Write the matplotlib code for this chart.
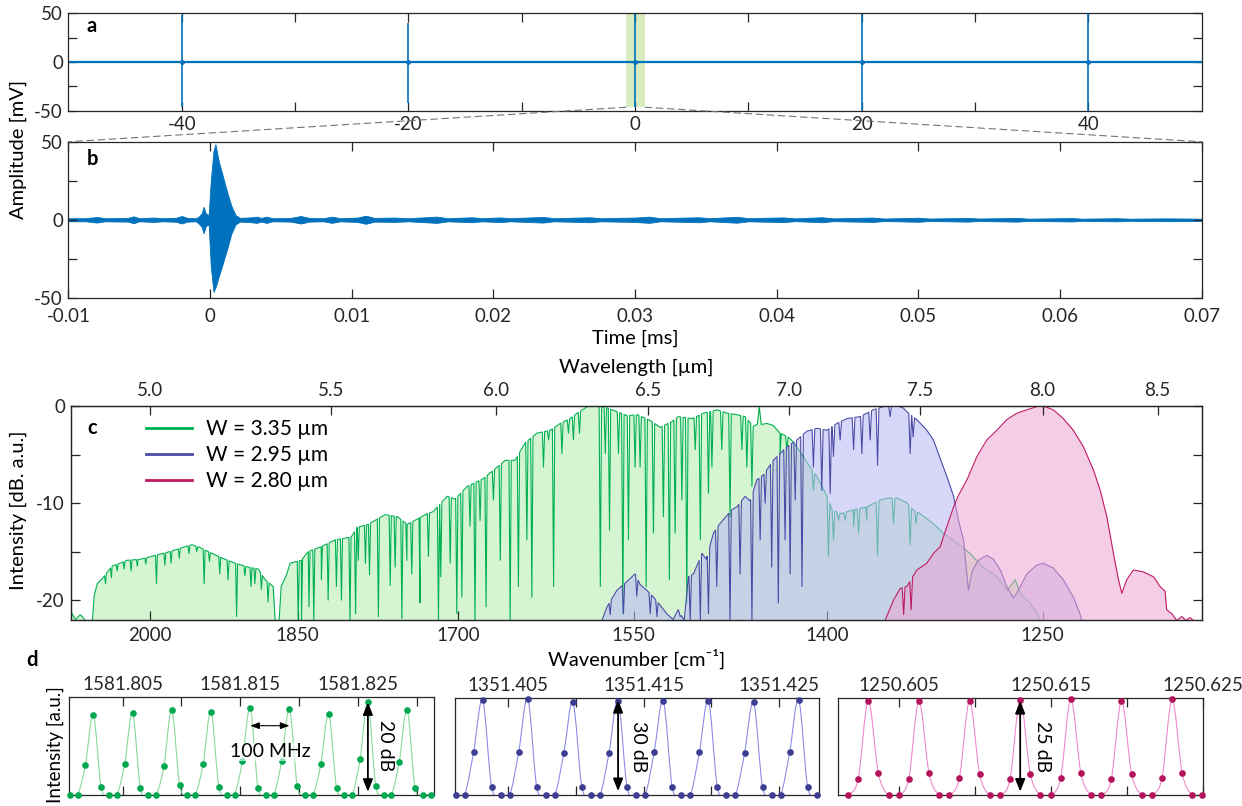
import numpy as np
import matplotlib
matplotlib.use("Agg")
import matplotlib.pyplot as plt
from matplotlib.ticker import FixedLocator, NullLocator
from matplotlib.patches import ConnectionPatch, PathPatch
from matplotlib.path import Path

plt.rcParams['font.family'] = ['Lato', 'DejaVu Sans']
plt.rcParams['font.size'] = 13.5
plt.rcParams['axes.labelsize'] = 14.5
plt.rcParams['axes.edgecolor'] = '#262626'
plt.rcParams['axes.linewidth'] = 0.9
plt.rcParams['xtick.color'] = '#262626'
plt.rcParams['ytick.color'] = '#262626'

# ---------------- data ----------------
# panel a: interferogram bursts (time axis, amplitude mV)
a_burst_t = [-40, -20, 0, 20, 40]
a_burst_max = [48, 40, 50, 50, 50]
a_burst_min = [-46, -42, -46, -50, -50]
a_zoom_span = [-0.8, 0.9]
a_xticks = [-40, -20, 0, 20, 40]
a_xlabels = ['-40', '-20', '0', '20', '40']

# panel b: envelope of the zoomed interferogram (ms, mV)
b_t = [-0.0100, -0.0088, -0.0080, -0.0074, -0.0058, -0.0054, -0.0050, -0.0040, -0.0033, -0.0024,
       -0.0020, -0.0016, -0.0010, -0.0008, -0.0006, -0.00045, -0.0003, -0.0001, 0.00005, 0.00024,
       0.00038, 0.0006, 0.0009, 0.0012, 0.0015, 0.0018, 0.0021, 0.0028, 0.0033, 0.0036,
       0.0040, 0.0044, 0.0057, 0.0064, 0.0070, 0.0080, 0.0086, 0.0092, 0.0104, 0.0110,
       0.0116, 0.0130, 0.0140, 0.0160, 0.0168, 0.0185, 0.0192, 0.0205, 0.0212, 0.0235,
       0.0243, 0.0268, 0.0276, 0.0300, 0.0310, 0.0318, 0.0345, 0.0353, 0.0372, 0.0380,
       0.0405, 0.0413, 0.0432, 0.0440, 0.0468, 0.0476, 0.0500, 0.0508, 0.0535, 0.0543,
       0.0570, 0.0578, 0.0608, 0.0616, 0.0640, 0.0650, 0.0675, 0.0700]
b_upper = [1.0, 1.0, 1.8, 1.0, 1.2, 2.2, 1.0, 1.4, 1.0, 1.3,
           2.4, 1.2, 1.0, 2.0, 4.0, 8.3, 4.0, 3.0, 25.0, 44.0,
           48.5, 38.0, 28.0, 18.0, 9.0, 3.0, 1.2, 1.5, 2.0, 1.2,
           2.0, 1.0, 1.2, 2.4, 1.2, 1.0, 2.0, 1.0, 1.4, 2.6,
           1.2, 1.4, 1.0, 2.0, 1.0, 1.6, 1.0, 1.5, 1.0, 1.8,
           1.0, 1.6, 1.0, 1.4, 2.0, 1.0, 1.6, 1.0, 1.9, 1.0,
           1.5, 0.9, 1.6, 0.9, 1.4, 0.8, 1.3, 0.8, 1.2, 0.8,
           1.2, 0.7, 1.1, 0.7, 1.0, 0.7, 0.9, 0.7]
b_lower = [-1.0, -1.0, -1.8, -1.0, -1.2, -2.2, -1.0, -1.4, -1.0, -1.3,
           -2.4, -1.2, -1.0, -2.5, -4.5, -8.7, -4.0, -3.0, -30.0, -46.2,
           -43.5, -37.0, -28.0, -19.0, -9.0, -3.0, -1.2, -1.5, -2.0, -1.2,
           -2.0, -1.0, -1.2, -2.4, -1.2, -1.0, -2.0, -1.0, -1.4, -2.6,
           -1.2, -1.4, -1.0, -2.0, -1.0, -1.6, -1.0, -1.5, -1.0, -1.8,
           -1.0, -1.6, -1.0, -1.4, -2.0, -1.0, -1.6, -1.0, -1.9, -1.0,
           -1.5, -0.9, -1.6, -0.9, -1.4, -0.8, -1.3, -0.8, -1.2, -0.8,
           -1.2, -0.7, -1.1, -0.7, -1.0, -0.7, -0.9, -0.7]
b_xticks = [-0.01, 0.0, 0.01, 0.02, 0.03, 0.04, 0.05, 0.06, 0.07]
b_xlabels = ['-0.01', '0', '0.01', '0.02', '0.03', '0.04', '0.05', '0.06', '0.07']

# panel c: spectra (wavenumber cm-1, dB) -- envelope knots and absorption dips
green_env_nu = [2084.5, 2079.6, 2074.2, 2068.8, 2061.2, 2059.1, 2055.8, 2050.5, 2044.1, 2039.8,
                2031.3, 2023.8, 2009.9, 1994.1, 1978.5, 1962.9, 1955.7, 1947.4, 1935.3, 1922.1,
                1912.0, 1898.8, 1888.9, 1882.0, 1874.1, 1872.1, 1868.2, 1866.2, 1861.3, 1857.4,
                1846.5, 1839.8, 1827.3, 1813.9, 1798.6, 1792.9, 1782.7, 1778.0, 1766.8, 1755.6,
                1746.4, 1734.6, 1728.2, 1722.8, 1710.0, 1702.9, 1692.2, 1678.0, 1665.6, 1658.6,
                1650.0, 1641.3, 1631.0, 1619.7, 1611.3, 1602.9, 1597.0, 1588.5, 1579.3, 1571.9,
                1563.7, 1555.5, 1547.3, 1536.7, 1528.7, 1519.1, 1514.3, 1503.1, 1494.4, 1483.5,
                1475.7, 1467.9, 1461.8, 1455.6, 1452.5, 1451.0, 1449.5, 1445.0, 1440.4, 1435.2,
                1429.1, 1425.3, 1417.8, 1412.7, 1407.5, 1403.8, 1400.1, 1396.4, 1390.5, 1380.9,
                1371.0, 1361.6, 1356.6, 1349.4, 1342.3, 1338.1, 1333.2, 1324.1, 1317.1, 1310.2,
                1304.1, 1298.6, 1289.8, 1280.1, 1273.4, 1268.1, 1264.8, 1258.2, 1253.5, 1251.5]
green_env_db = [-21.2, -22.0, -21.5, -22.1, -22.1, -19.5, -18.3, -17.8, -17.0, -16.5,
                -16.2, -15.9, -15.8, -15.4, -15.0, -14.5, -14.3, -14.6, -15.2, -15.8,
                -16.2, -16.6, -16.8, -17.9, -18.6, -22.1, -22.1, -18.6, -17.5, -16.2,
                -15.9, -15.0, -14.5, -13.8, -13.5, -12.5, -12.2, -11.9, -11.2, -11.4,
                -12.2, -11.5, -11.1, -10.9, -9.3, -9.6, -8.3, -7.5, -6.3, -5.6,
                -5.6, -3.8, -2.8, -2.5, -1.8, -1.3, -0.75, -0.07, 0.0, -0.2,
                -0.6, -1.0, -0.9, -1.5, -2.2, -1.6, -1.1, -1.3, -0.75, -0.4,
                -0.75, -0.9, -1.1, -2.1, -1.9, -0.07, -1.9, -1.8, -2.0, -2.8,
                -3.2, -3.7, -5.2, -6.3, -7.3, -8.3, -9.3, -10.7, -11.1, -10.7,
                -10.4, -9.7, -9.5, -9.5, -10.0, -10.7, -11.1, -12.1, -13.1, -13.8,
                -14.5, -15.2, -16.6, -17.6, -19.0, -17.9, -19.3, -20.3, -21.4, -22.1]
green_dip_nu = [2047.0, 2040.6, 2034.5, 2027.0, 2019.6, 2013.0, 2004.0, 1992.8, 1984.0, 1977.5,
                1969.0, 1959.0, 1951.0, 1943.4, 1938.0, 1927.5, 1919.1, 1910.5, 1902.2, 1896.1,
                1892.2, 1885.7, 1879.1,
                1849.5, 1846.3, 1839.1, 1834.4, 1827.1,
                1820.6, 1812.7, 1807.9, 1799.8, 1794.5, 1792.0, 1785.2, 1781.4, 1773.1, 1762.1,
                1757.5, 1751.3, 1746.7, 1742.2, 1734.6, 1727.0, 1717.9, 1715.8, 1707.3, 1701.4,
                1696.9, 1689.6, 1685.2, 1680.7, 1675.4, 1668.9, 1662.9, 1654.3, 1647.1, 1639.8,
                1635.5, 1625.5, 1621.2, 1616.9, 1609.8, 1604.3, 1600.1, 1595.0, 1577.6, 1573.5,
                1570.0, 1562.6, 1559.0, 1554.4, 1549.0, 1544.9, 1540.0, 1534.1, 1526.1, 1521.3,
                1516.7, 1511.3, 1507.4, 1500.7, 1496.7, 1490.3, 1487.6, 1479.9, 1473.5, 1464.3,
                1460.5, 1456.6, 1435.2, 1430.1, 1410.2, 1399.1, 1395.4, 1391.7, 1386.8, 1380.7,
                1377.1, 1371.0, 1363.4, 1352.0, 1340.2, 1336.0]
green_dip_db = [-18.3, -17.7, -17.0, -16.8, -17.0, -16.5, -16.3, -18.3, -16.4, -16.2,
                -15.7, -15.2, -15.0, -18.3, -16.0, -17.3, -17.9, -21.7, -17.5, -18.6,
                -18.3, -18.9, -20.2,
                -22.1, -22.1, -20.7, -22.1, -17.9,
                -20.0, -18.6, -20.0, -22.1, -21.4, -15.9, -16.2, -17.4, -21.7, -18.5,
                -16.6, -21.9, -15.9, -17.3, -20.3, -15.5, -22.1, -17.6, -16.2, -21.4,
                -19.7, -12.4, -22.1, -11.8, -20.7, -9.7, -15.9, -22.1, -18.6, -13.8,
                -19.7, -6.3, -3.5, -18.6, -4.9, -2.8, -3.5, -2.8, -18.6, -4.9,
                -12.8, -4.9, -21.4, -13.8, -6.3, -6.3, -18.6, -13.1, -11.4, -17.9,
                -13.1, -9.7, -20.3, -4.5, -13.8, -9.0, -6.3, -4.5, -11.4, -4.5,
                -6.3, -8.3, -4.9, -4.5, -8.7, -15.5, -13.8, -11.8, -11.8, -12.4,
                -13.1, -11.8, -15.4, -12.1, -14.3, -12.1]

blue_env_nu = [1576.2, 1572.1, 1563.9, 1555.7, 1549.0, 1544.9, 1539.4, 1534.1, 1530.1, 1523.4,
               1518.3, 1514.3, 1509.5, 1506.1, 1502.1, 1495.4, 1492.0, 1486.4, 1481.2, 1472.1,
               1468.2, 1461.8, 1457.9, 1452.8, 1447.8, 1440.3, 1435.2, 1430.1, 1422.5, 1415.1,
               1407.7, 1400.3, 1392.9, 1385.5, 1376.0, 1366.5, 1359.3, 1349.6, 1345.1, 1342.5,
               1335.5, 1328.5, 1323.9, 1319.2, 1314.5, 1309.9, 1306.5, 1303.1, 1299.7, 1297.2,
               1292.9, 1287.2, 1282.7, 1278.1, 1273.7, 1269.3, 1266.0, 1260.4, 1253.8, 1249.4,
               1242.9, 1236.4, 1229.9, 1225.6, 1224.5]
blue_env_db = [-22.1, -20.7, -19.0, -18.1, -17.3, -18.4, -19.0, -19.7, -20.3, -21.4,
               -22.0, -21.0, -22.1, -17.6, -17.3, -15.2, -15.8, -13.1, -12.1, -10.7,
               -10.4, -9.3, -9.8, -7.6, -7.1, -5.6, -4.9, -4.2, -3.5, -2.6,
               -2.3, -2.5, -1.8, -1.3, -1.1, -0.4, -0.07, 0.0, -0.2, -0.6,
               -1.4, -2.5, -3.5, -5.4, -7.3, -9.3, -11.8, -13.8, -19.0, -17.0,
               -15.9, -15.4, -15.8, -16.9, -18.6, -19.8, -19.0, -17.3, -16.4, -16.2,
               -16.7, -17.9, -19.7, -21.4, -22.1]
blue_dip_nu = [1569.4, 1558.5, 1547.6, 1536.7, 1531.3, 1512.7, 1504.7, 1496.7, 1490.3, 1483.8,
               1473.5, 1465.7, 1456.6, 1450.3, 1446.5, 1441.5, 1436.5, 1431.4, 1427.6, 1423.8,
               1418.7, 1410.2, 1404.0, 1397.8, 1395.4, 1390.5, 1380.7, 1374.7, 1368.7, 1363.4,
               1354.4, 1340.2, 1338.1]
blue_dip_db = [-21.5, -21.4, -19.6, -21.4, -21.7, -21.7, -22.1, -22.1, -21.4, -18.6,
               -22.1, -17.3, -22.1, -13.8, -10.0, -16.6, -20.3, -13.8, -17.3, -9.7,
               -18.6, -6.3, -8.7, -9.0, -5.2, -3.5, -4.5, -4.9, -3.5, -6.1,
               -1.1, -4.9, -3.2]

magenta_env_nu = [1358.0, 1352.0, 1347.2, 1342.5, 1335.5, 1328.5, 1323.9, 1319.2, 1314.5, 1309.9,
                  1306.5, 1300.7, 1293.9, 1287.2, 1280.4, 1273.7, 1267.1, 1260.4, 1253.8, 1249.4,
                  1242.9, 1236.4, 1229.9, 1223.4, 1216.9, 1212.6, 1208.4, 1204.2, 1201.0, 1198.9,
                  1195.8, 1191.6, 1185.3, 1179.1, 1175.0, 1171.9, 1170.9, 1167.8, 1164.7, 1161.7,
                  1159.0, 1156.6, 1154.6]
magenta_env_db = [-22.1, -20.0, -18.8, -18.6, -16.9, -16.2, -15.2, -14.5, -12.4, -10.4,
                  -9.2, -7.6, -5.2, -3.5, -2.5, -1.4, -0.75, -0.4, -0.07, 0.0,
                  -0.4, -1.3, -2.5, -4.2, -6.6, -8.7, -11.4, -15.2, -17.9, -19.3,
                  -17.9, -16.9, -17.1, -17.6, -18.6, -19.1, -21.0, -21.4, -22.1, -21.7,
                  -22.1, -21.8, -22.1]
magenta_dip_nu = [1344.8, 1339.5]
magenta_dip_db = [-21.5, -21.0]

c_wn_ticks = [2000, 1850, 1700, 1550, 1400, 1250]
c_wl_ticks = [5.0, 5.5, 6.0, 6.5, 7.0, 7.5, 8.0, 8.5]
c_labels = ['W = 3.35 µm', 'W = 2.95 µm', 'W = 2.80 µm']

# panel d: resolved comb lines (wavenumber, linear intensity), sampled every 20 MHz
d_step = 0.00066713          # 20 MHz in cm-1
d_green_x0 = 1581.8005
d_green_y = [0, 0, 0.31, 0.82, 0.075, 0, 0, 0.315, 0.84, 0.065, 0, 0, 0.29, 0.873, 0.099,
             0, 0, 0.318, 0.853, 0.082, 0, 0, 0.346, 0.894, 0.068, 0, 0, 0.342, 0.877, 0.086,
             0, 0, 0.312, 0.832, 0.072, 0, 0, 0.363, 0.949, 0.092, 0, 0, 0.339, 0.873, 0.072,
             0, 0]
d_blue_x0 = 1351.4011
d_blue_y = [0, 0, 0.438, 0.976, 0.079, 0, 0, 0.445, 0.99, 0.079, 0, 0, 0.435, 0.955, 0.079,
            0, 0, 0.435, 0.969, 0.079, 0, 0, 0.445, 0.969, 0.079, 0, 0, 0.438, 0.966, 0.079,
            0, 0, 0.428, 0.952, 0.079, 0, 0, 0.438, 0.976, 0.079, 0]
d_mag_x0 = 1250.60164
d_mag_y = [0, 0.161, 0.966, 0.223, 0, 0, 0.168, 0.966, 0.223, 0, 0, 0.178, 0.966, 0.212, 0,
           0, 0.164, 0.976, 0.216, 0, 0, 0.178, 0.983, 0.223, 0, 0, 0.164, 0.966, 0.219, 0,
           0, 0.175, 0.983, 0.223, 0, 0]
d_green_xlim = [1581.80046, 1581.8315]
d_blue_xlim = [1351.40104, 1351.42793]
d_mag_xlim = [1250.60098, 1250.6250]
d_green_ticks = [1581.805, 1581.810, 1581.815, 1581.820, 1581.825, 1581.830]
d_green_tl = ['1581.805', '', '1581.815', '', '1581.825', '']
d_blue_ticks = [1351.405, 1351.410, 1351.415, 1351.420, 1351.425]
d_blue_tl = ['1351.405', '', '1351.415', '', '1351.425']
d_mag_ticks = [1250.605, 1250.610, 1250.615, 1250.620, 1250.625]
d_mag_tl = ['1250.605', '', '1250.615', '', '1250.625']
d_green_arrow = [38, 0.949, 0.03, '20 dB']
d_blue_arrow = [18, 0.976, 0.04, '30 dB']
d_mag_arrow = [17, 0.966, 0.035, '25 dB']
d_fsr_peaks = [23, 28]
d_fsr_text = '100 MHz'

# ---------------- styles ----------------
BLUE_SIG = '#0072BD'
G_LINE, G_FILL = '#00b050', '#d5f5d2'
B_LINE, B_FILL = '#4b4ba8', (185/255, 185/255, 246/255, 0.57)
M_LINE, M_FILL = '#c01a63', (237/255, 164/255, 210/255, 0.55)
TL = 6.5


def ticks_in(ax, **kw):
    ax.tick_params(which='both', direction='in', length=TL, width=0.9, **kw)


fig = plt.figure(figsize=(12.42, 8.06), dpi=100)

# ---------------- panel a ----------------
ax_a = fig.add_axes([0.0551, 0.8627, 0.9123, 0.1208])
ax_a.axvspan(a_zoom_span[0], a_zoom_span[1], ymin=0.035, ymax=1.0,
             color='#d9ecbf', lw=0, zorder=0)
ax_a.axhline(0, color=BLUE_SIG, lw=1.6, zorder=2)
ax_a.vlines(a_burst_t, a_burst_min, a_burst_max, color=BLUE_SIG, lw=1.2, zorder=2)
ax_a.plot(a_burst_t, np.zeros(len(a_burst_t)), 'o', color=BLUE_SIG, ms=2.5, zorder=3)
ax_a.set_xlim(-50, 50)
ax_a.set_ylim(-50, 50)
ax_a.set_xticks(a_xticks)
ax_a.set_xticklabels(a_xlabels)
ax_a.xaxis.set_minor_locator(FixedLocator([-30, -10, 10, 30]))
ax_a.set_yticks([-50, 0, 50])
ax_a.set_yticklabels(['-50', '0', '50'])
ax_a.yaxis.set_minor_locator(FixedLocator([-25, 25]))
ticks_in(ax_a, top=True, right=True)
ax_a.tick_params(axis='x', pad=4)
ax_a.tick_params(axis='y', pad=4)
ax_a.text(0.0208, 0.87, 'a', transform=ax_a.transAxes, fontweight='bold',
          ha='center', va='center', fontsize=14.5)

# ---------------- panel b ----------------
ax_b = fig.add_axes([0.0551, 0.6306, 0.9123, 0.1935])
ax_b.fill_between(b_t, b_lower, b_upper, color=BLUE_SIG, lw=0.6, edgecolor=BLUE_SIG)
ax_b.set_xlim(-0.01, 0.07)
ax_b.set_ylim(-50, 50)
ax_b.set_xticks(b_xticks)
ax_b.set_xticklabels(b_xlabels)
ax_b.set_yticks([-50, 0, 50])
ax_b.set_yticklabels(['-50', '0', '50'])
ax_b.yaxis.set_minor_locator(FixedLocator([-25, 25]))
ticks_in(ax_b, top=True, right=True)
ax_b.tick_params(axis='x', pad=7.5)
ax_b.tick_params(axis='y', pad=4)
ax_b.set_xlabel('Time [ms]')
ax_b.xaxis.set_label_coords(0.5, -0.258)
ax_b.xaxis.label.set_va('center')
ax_b.text(0.0213, 0.892, 'b', transform=ax_b.transAxes, fontweight='bold',
          ha='center', va='center', fontsize=14.5)

fig.text(0.0147, 0.814, 'Amplitude [mV]', rotation=90, ha='center', va='center', fontsize=14.5)

for xa, xb in ((a_zoom_span[0], 0.0), (a_zoom_span[1], 1.0)):
    con = ConnectionPatch(xyA=(xa, 0.035), coordsA=ax_a.get_xaxis_transform(),
                          xyB=(xb, 1.0), coordsB=ax_b.transAxes,
                          color='0.45', lw=0.8, ls=(0, (6, 4)))
    fig.add_artist(con)


# ---------------- panel c ----------------
def spectrum(env_nu, env_db, dip_nu, dip_db, hw=1.0):
    order = np.argsort(env_nu)
    en = np.asarray(env_nu, float)[order]
    ed = np.asarray(env_db, float)[order]
    xs, ys = list(en), list(ed)
    for n, d in zip(dip_nu, dip_db):
        for off in (-hw, hw):
            xs.append(n + off)
            ys.append(np.interp(n + off, en, ed))
        xs.append(n)
        ys.append(min(d, np.interp(n, en, ed)))
    o = np.argsort(xs)
    return np.asarray(xs)[o], np.asarray(ys)[o]


ax_c = fig.add_axes([0.0568, 0.2308, 0.9108, 0.2655])
ax_c.set_xscale('log')
series = [
    (green_env_nu, green_env_db, green_dip_nu, green_dip_db, G_LINE, G_FILL, c_labels[0]),
    (blue_env_nu, blue_env_db, blue_dip_nu, blue_dip_db, B_LINE, B_FILL, c_labels[1]),
    (magenta_env_nu, magenta_env_db, magenta_dip_nu, magenta_dip_db, M_LINE, M_FILL, c_labels[2]),
]
for k, (en, ed, dn, dd, lc, fc, lab) in enumerate(series):
    x, y = spectrum(en, ed, dn, dd)
    ax_c.fill_between(x, y, -30, color=fc, lw=0, zorder=1 + 2 * k)
    ax_c.plot(x, y, color=lc, lw=0.8, label=lab, zorder=2 + 2 * k)
ax_c.set_xlim(2085, 1149.5)
ax_c.set_ylim(-22.05, 0)
ax_c.set_xticks(c_wn_ticks)
ax_c.set_xticklabels([str(v) for v in c_wn_ticks])
ax_c.xaxis.set_minor_locator(NullLocator())
ax_c.set_yticks([-20, -10, 0])
ax_c.set_yticklabels(['-20', '-10', '0'])
ax_c.yaxis.set_minor_locator(FixedLocator([-15, -5]))
ticks_in(ax_c, top=False, right=True)
ax_c.tick_params(axis='x', pad=5)
ax_c.tick_params(axis='y', pad=4)
ax_c.set_xlabel('Wavenumber [cm⁻¹]')
ax_c.xaxis.set_label_coords(0.5, -0.182)
ax_c.xaxis.label.set_va('center')
ax_c.text(0.019, 0.897, 'c', transform=ax_c.transAxes, fontweight='bold',
          ha='center', va='center', fontsize=14.5)
leg = ax_c.legend(loc='upper left', bbox_to_anchor=(0.0667, 0.94), frameon=False,
                  handlelength=2.2, handletextpad=0.7, labelspacing=0.3,
                  borderpad=0, borderaxespad=0, fontsize=15)
for ln in leg.get_lines():
    ln.set_linewidth(2.0)

axt = ax_c.twiny()
axt.set_xscale('log')
axt.set_xlim(1e4 / 2085, 1e4 / 1149.5)
axt.set_xticks(c_wl_ticks)
axt.set_xticklabels(['%.1f' % v for v in c_wl_ticks])
axt.xaxis.set_minor_locator(NullLocator())
axt.tick_params(which='both', direction='in', length=TL, width=0.9, top=True,
                bottom=False, labeltop=True, labelbottom=False, pad=5)
axt.set_xlabel('Wavelength [µm]')
axt.xaxis.set_label_coords(0.5, 1.182)
axt.xaxis.label.set_va('center')

fig.text(0.0149, 0.367, 'Intensity [dB. a.u.]', rotation=90, ha='center', va='center',
         fontsize=14.5)


# ---------------- panel d ----------------
def smooth_path(x, y):
    n = len(x)
    verts = [(x[0], y[0])]
    codes = [Path.MOVETO]
    for i in range(n - 1):
        xp, yp = (x[i - 1], y[i - 1]) if i > 0 else (x[i], y[i])
        xn, yn = (x[i + 2], y[i + 2]) if i + 2 < n else (x[i + 1], y[i + 1])
        c1 = (x[i] + (x[i + 1] - xp) / 6.0, y[i] + (y[i + 1] - yp) / 6.0)
        c2 = (x[i + 1] - (xn - x[i]) / 6.0, y[i + 1] - (yn - y[i]) / 6.0)
        verts += [c1, c2, (x[i + 1], y[i + 1])]
        codes += [Path.CURVE4] * 3
    return Path(verts, codes)


d_specs = [
    ([0.0558, 0.0140, 0.2939, 0.1208], d_green_x0, d_green_y, d_green_xlim, d_green_ticks,
     d_green_tl, '#00a84f', '#8ad89a', d_green_arrow),
    ([0.3661, 0.0136, 0.2931, 0.1208], d_blue_x0, d_blue_y, d_blue_xlim, d_blue_ticks,
     d_blue_tl, '#3d3d94', '#8c8ce8', d_blue_arrow),
    ([0.6747, 0.0136, 0.2936, 0.1208], d_mag_x0, d_mag_y, d_mag_xlim, d_mag_ticks,
     d_mag_tl, '#b3145b', '#ee8acb', d_mag_arrow),
]
d_axes = []
for rect, x0, yv, xl, tks, tls, mc, lc, arr in d_specs:
    ax = fig.add_axes(rect)
    xv = x0 + d_step * np.arange(len(yv))
    ax.add_patch(PathPatch(smooth_path(xv, yv), fill=False, edgecolor=lc, lw=0.8, zorder=2))
    ax.plot(xv, yv, 'o', color=mc, ms=4.8, mew=0, clip_on=False, zorder=3)
    ax.set_xlim(*xl)
    ax.set_ylim(0, 1.0)
    ax.set_xticks(tks)
    ax.set_xticklabels(tls)
    ax.set_yticks([])
    ax.tick_params(axis='x', which='both', direction='in', length=TL, width=0.9,
                   top=True, bottom=True, labeltop=True, labelbottom=False, pad=3)
    xa = xv[arr[0]]
    ax.annotate('', xy=(xa, arr[2]), xytext=(xa, arr[1]),
                arrowprops=dict(arrowstyle='<|-|>,head_length=0.55,head_width=0.22',
                                color='black', lw=1.3, shrinkA=0, shrinkB=0), zorder=4)
    ax.text(xa + 0.0015, 0.5, arr[3], rotation=270, ha='center', va='center',
            fontsize=14, zorder=5)
    d_axes.append((ax, xv))

ax_g, xg = d_axes[0]
ax_g.annotate('', xy=(xg[d_fsr_peaks[1]], 0.709), xytext=(xg[d_fsr_peaks[0]], 0.709),
              arrowprops=dict(arrowstyle='<|-|>,head_length=0.4,head_width=0.15',
                              color='black', lw=0.8, shrinkA=0, shrinkB=0), zorder=4)
ax_g.text(0.5 * (xg[d_fsr_peaks[0]] + xg[d_fsr_peaks[1]]), 0.44, d_fsr_text,
          ha='center', va='center', fontsize=14, zorder=5,
          bbox=dict(facecolor='white', alpha=0.6, edgecolor='none', pad=0.5))

fig.text(0.0443, 0.0757, 'Intensity [a.u.]', rotation=90, ha='center', va='center',
         fontsize=13.5)
fig.text(0.0258, 0.181, 'd', fontweight='bold', ha='center', va='center', fontsize=14.5)

fig.savefig('out.png', dpi=100)
